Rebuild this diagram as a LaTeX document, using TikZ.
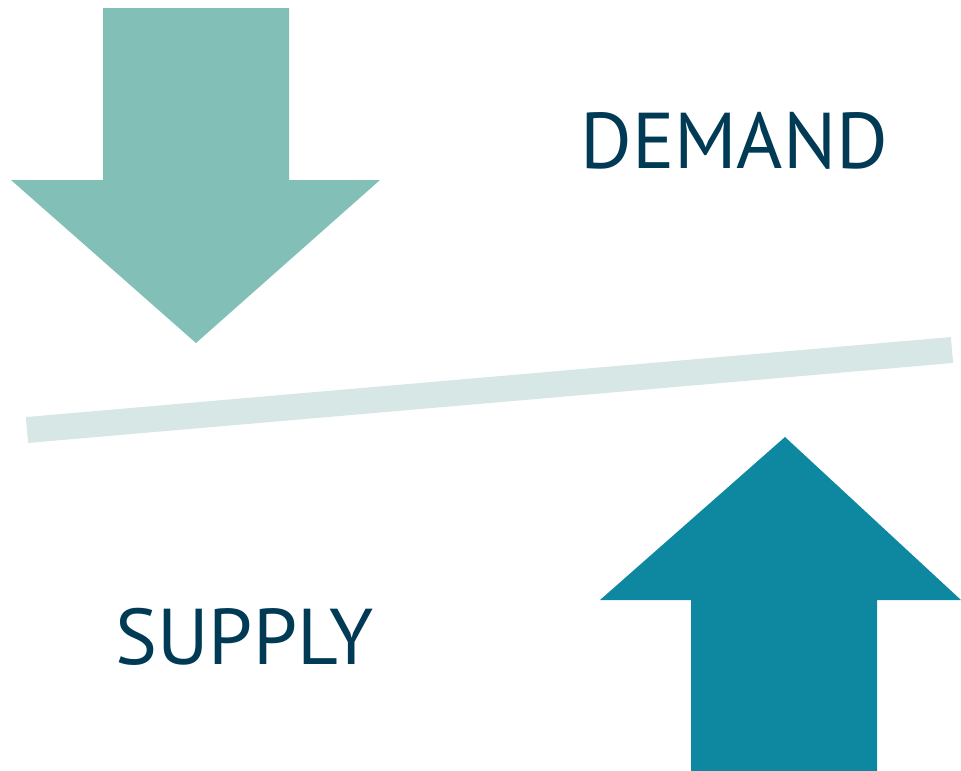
\documentclass[tikz,border=0pt]{standalone}
\usepackage{fontspec}
\setmainfont{PT Sans}
\definecolor{demandteal}{HTML}{82BFB7}
\definecolor{supplyteal}{HTML}{0E88A1}
\definecolor{balancegray}{HTML}{D7E7E6}
\definecolor{labelnavy}{HTML}{003A54}
\tikzset{
  label text/.style={anchor=base west, inner sep=0pt, text=labelnavy, font=\fontsize{45}{45}\selectfont}
}
\begin{document}
\begin{tikzpicture}[x=0.02cm, y=-0.02cm]
      \useasboundingbox (0,0) rectangle (961,771);
      % down arrow
      \fill[demandteal] (103,8) -- (289,8) -- (289,180) -- (380,180) -- (196,343) -- (11,180) -- (103,180) -- cycle;
      % balance bar
      \draw[balancegray, line width=0.52cm] (27,430) -- (952,350);
      % up arrow
      \fill[supplyteal] (691,771) -- (877,771) -- (877,600) -- (961,600) -- (785,437) -- (600,600) -- (691,600) -- cycle;
      \node[label text] (demand) at (580,168) {DEMAND};
      \node[label text] (supply) at (115,664) {SUPPLY};
\end{tikzpicture}
\end{document}
